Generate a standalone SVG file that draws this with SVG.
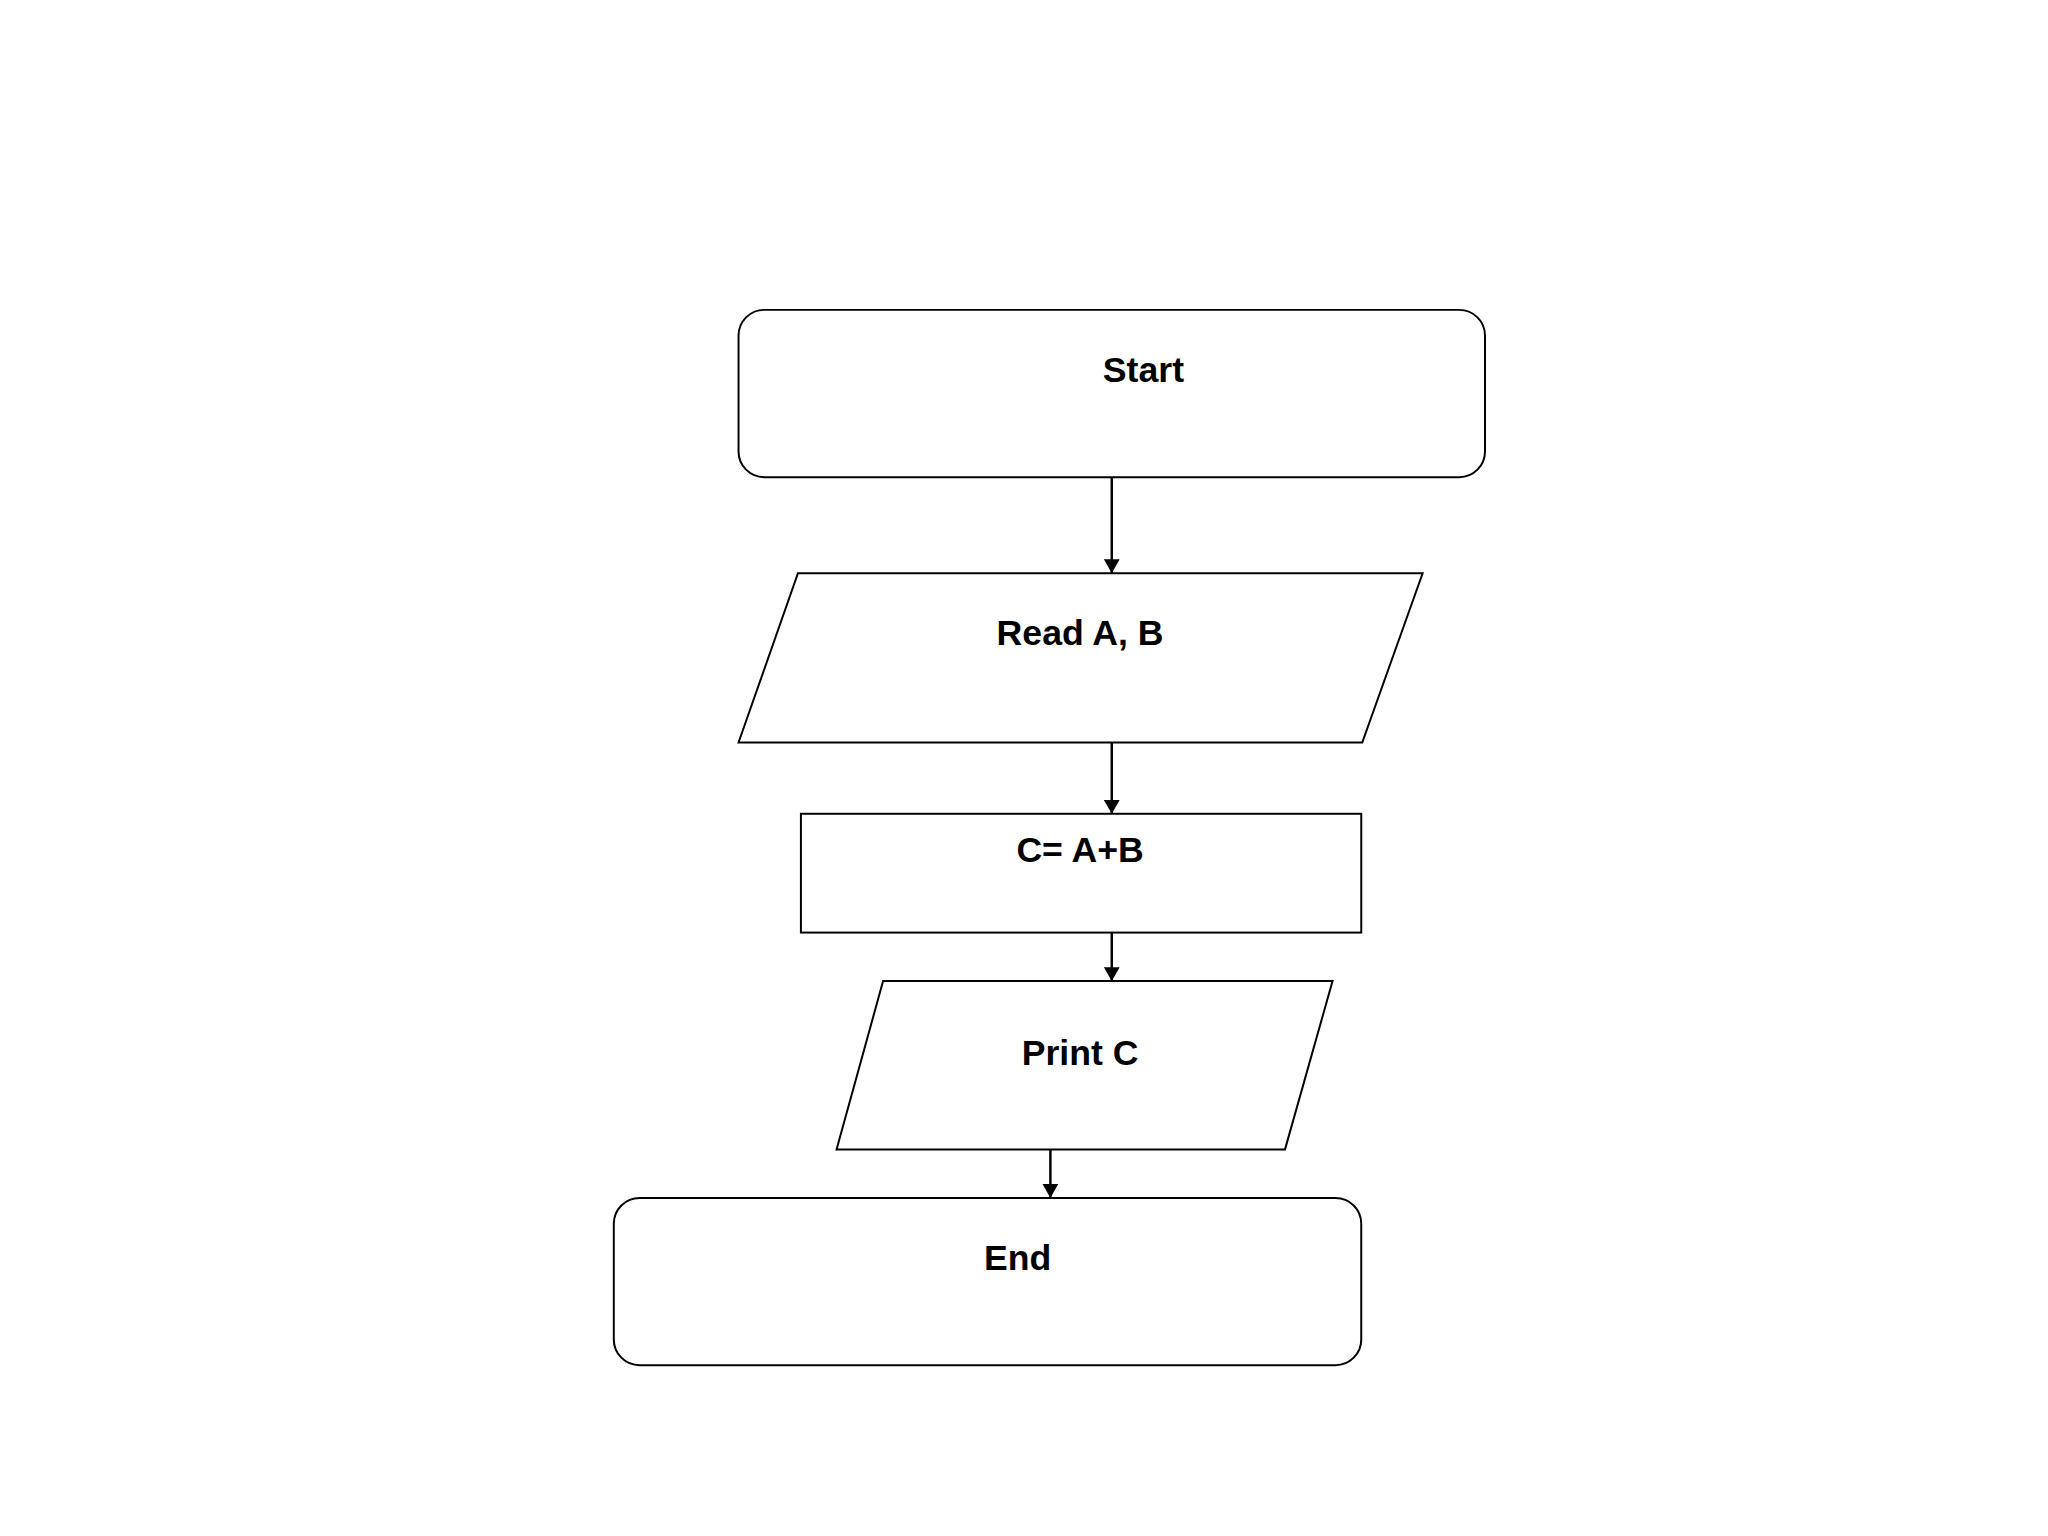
<svg xmlns="http://www.w3.org/2000/svg" width="2048" height="1536" viewBox="0 0 2048 1536">
<style>
.s{fill:#fff;stroke:#000;stroke-width:2}
.t{font-family:"Liberation Sans",Arial,sans-serif;font-weight:bold;font-size:36px;text-anchor:middle;fill:#000}
.c{stroke:#000;stroke-width:2.5;fill:none;marker-end:url(#a)}
</style>
<defs><marker id="a" markerWidth="14" markerHeight="16" refX="14" refY="8" orient="auto" markerUnits="userSpaceOnUse" viewBox="0 0 14 16"><path d="M0,0L14,8L0,16z" fill="#000"/></marker></defs>
<rect width="2048" height="1536" fill="#fff"/>
<g transform="scale(0.99)">
<g id="connectors">
<path class="c" d="M1123,482V579"/>
<path class="c" d="M1123,750V822"/>
<path class="c" d="M1123,942V991"/>
<path class="c" d="M1061,1161V1210"/>
</g>
<g id="start"><rect class="s" x="746" y="313" width="754" height="169" rx="26"/><text class="t" x="1155" y="386">Start</text></g>
<g id="read"><polygon class="s" points="806,579 1437,579 1376,750 746,750"/><text class="t" x="1091" y="652">Read A, B</text></g>
<g id="calc"><rect class="s" x="809" y="822" width="566" height="120"/><text class="t" x="1091" y="871">C= A+B</text></g>
<g id="print"><polygon class="s" points="892,991 1346,991 1298,1161 845,1161"/><text class="t" x="1091" y="1076">Print C</text></g>
<g id="end"><rect class="s" x="620" y="1210" width="755" height="169" rx="26"/><text class="t" x="1028" y="1283">End</text></g>
</g>
</svg>
